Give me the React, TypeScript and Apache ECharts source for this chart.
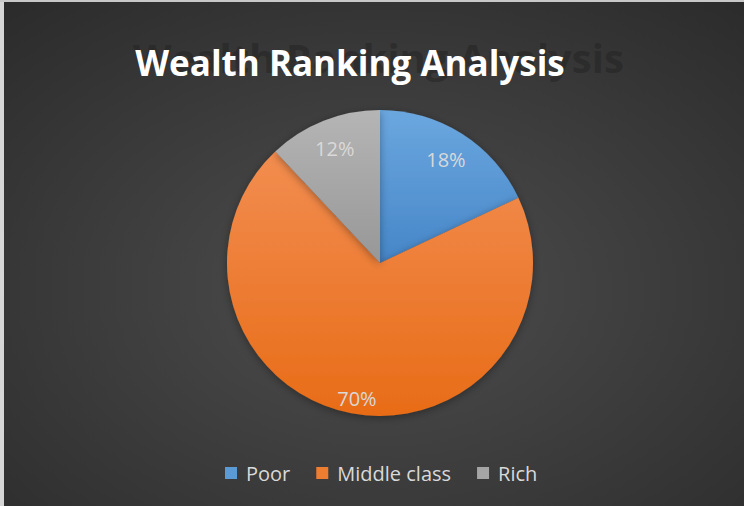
import React, { useEffect, useRef } from "react";
import * as echarts from "echarts";

const titleText = "Wealth Ranking Analysis";
const categories = ["Poor", "Middle class", "Rich"];
const values = [18, 70, 12];
const colorsTop = ["#6ba7df", "#f28d50", "#b5b5b5"];
const colorsBottom = ["#4686c8", "#e86c17", "#979797"];
const legendColors = ["#5b9bd5", "#ed7d31", "#a5a5a5"];

export default function App() {
  const ref = useRef<HTMLDivElement>(null);
  useEffect(() => {
    document.body.style.margin = "0";
    const chart = echarts.init(ref.current!, null, { renderer: "svg" });
    const mainData = categories.map((name, i) => ({
      name,
      value: values[i],
      itemStyle: {
        color: new echarts.graphic.LinearGradient(0, 0, 0, 1, [
          { offset: 0, color: colorsTop[i] },
          { offset: 1, color: colorsBottom[i] },
        ]),
      },
    }));
    const labelData = categories.map((name, i) => ({ name, value: values[i] }));
    chart.setOption({
      animation: false,
      backgroundColor: new echarts.graphic.RadialGradient(0.51, 0.57, 0.95, [
        { offset: 0, color: "#4e4e4e" },
        { offset: 1, color: "#222222" },
      ]),
      graphic: [
        { type: "rect", left: 0, top: 0, shape: { width: 4, height: 506 }, style: { fill: "#d6d6d6" }, z: 100 },
        { type: "rect", left: 0, top: 0, shape: { width: 744, height: 2 }, style: { fill: "#c8c8c8" }, z: 100 },
        {
          type: "text",
          x: 133,
          y: 57,
          z: 1,
          style: {
            text: titleText,
            fill: "rgba(28,28,28,0.4)",
            font: "bold 40px 'Open Sans'",
            align: "left",
            verticalAlign: "middle",
            shadowBlur: 6,
            shadowColor: "rgba(25,25,25,0.6)",
          },
        },
        {
          type: "text",
          x: 350,
          y: 62,
          z: 2,
          style: {
            text: titleText,
            fill: "#ffffff",
            font: "bold 35px 'Open Sans'",
            align: "center",
            verticalAlign: "middle",
          },
        },
      ],
      legend: {
        left: 225,
        top: 463,
        padding: 0,
        itemWidth: 12,
        itemHeight: 12,
        itemGap: 26,
        icon: "rect",
        selectedMode: false,
        data: categories.map((name, i) => ({ name, itemStyle: { color: legendColors[i] } })),
        textStyle: {
          color: "#d9d9d9",
          fontFamily: "Open Sans",
          fontSize: 20,
          padding: [0, 0, 0, 4],
        },
      },
      series: [
        {
          type: "pie",
          center: [380, 263],
          radius: [0, 153],
          startAngle: 90,
          clockwise: true,
          label: { show: false },
          labelLine: { show: false },
          silent: true,
          itemStyle: {
            borderWidth: 0,
            shadowBlur: 8,
            shadowColor: "rgba(0,0,0,0.35)",
            shadowOffsetY: 2,
          },
          data: mainData,
        },
        {
          type: "pie",
          center: [380, 263],
          radius: [87, 153],
          startAngle: 90,
          clockwise: true,
          silent: true,
          itemStyle: { color: "rgba(0,0,0,0)", borderWidth: 0 },
          label: {
            show: true,
            position: "inside",
            formatter: "{d}%",
            color: "#d9d9d9",
            fontFamily: "Open Sans",
            fontSize: 20,
          },
          labelLine: { show: false },
          labelLayout: (params: any) =>
            params.dataIndex === 1 ? { dy: 15 } : {},
          data: labelData,
        },
      ],
    });
    return () => chart.dispose();
  }, []);
  return <div ref={ref} style={{ width: 744, height: 506 }} />;
}
